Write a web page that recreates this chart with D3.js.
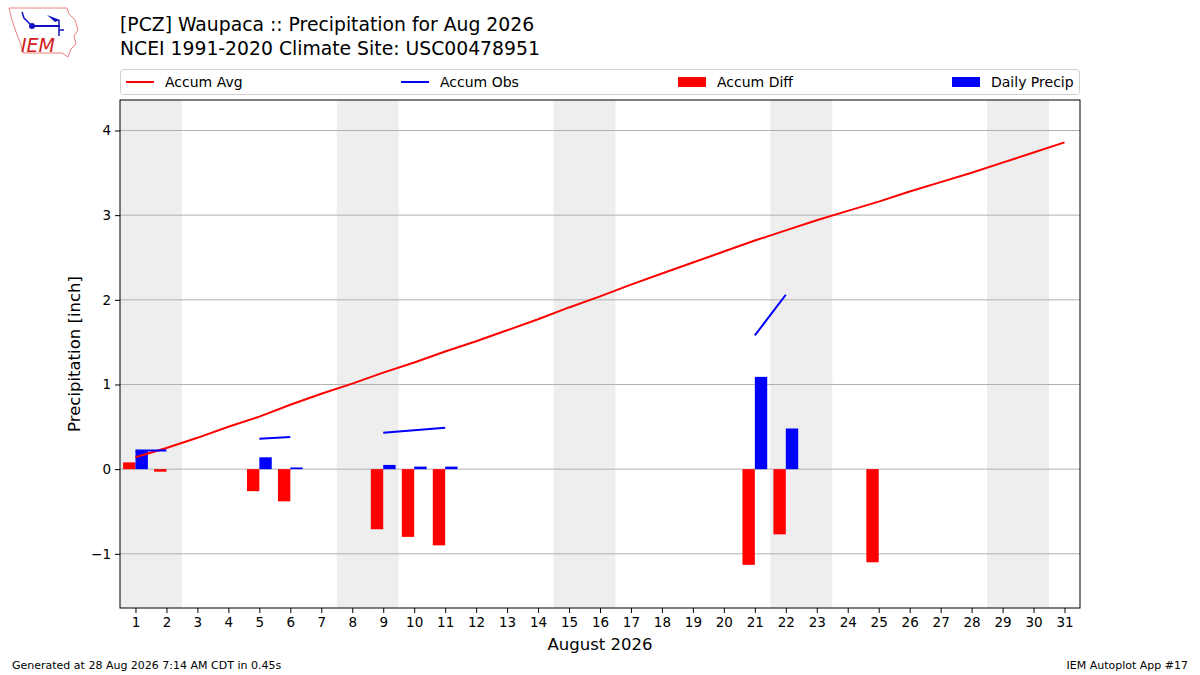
<!DOCTYPE html>
<html>
<head>
<meta charset="utf-8">
<script src="https://cdn.jsdelivr.net/npm/d3@7"></script>
<style>
html,body{margin:0;padding:0;background:#fff;}
svg text{font-family:"DejaVu Sans",sans-serif;}
</style>
</head>
<body>
<svg id="chart" width="1200" height="675"></svg>
<script>
const days = d3.range(1, 32);
const accumAvg = [0.14,0.25,0.37,0.50,0.62,0.76,0.89,1.01,1.14,1.26,1.39,1.51,1.64,1.77,1.91,2.04,2.18,2.31,2.44,2.57,2.70,2.82,2.94,3.05,3.16,3.28,3.39,3.50,3.62,3.74,3.86];
const accumObs = [0.22,0.22,null,null,0.36,0.38,null,null,0.43,0.46,0.49,null,null,null,null,null,null,null,null,null,1.58,2.06,null,null,2.06,null,null,null,null,null,null];
const accumDiff = [0.08,-0.03,null,null,-0.26,-0.38,null,null,-0.71,-0.80,-0.90,null,null,null,null,null,null,null,null,null,-1.13,-0.77,null,null,-1.10,null,null,null,null,null,null];
const dailyPrecip = [0.22,0,null,null,0.14,0.02,null,null,0.05,0.03,0.03,null,null,null,null,null,null,null,null,null,1.09,0.48,null,null,0,null,null,null,null,null,null];
const weekendStarts = [1, 8, 15, 22, 29];
const yTicks = [-1, 0, 1, 2, 3, 4];
const titleLines = ["[PCZ] Waupaca :: Precipitation for Aug 2026", "NCEI 1991-2020 Climate Site: USC00478951"];
const legendItems = [
  {label:"Accum Avg", type:"line", color:"#ff0000"},
  {label:"Accum Obs", type:"line", color:"#0000ff"},
  {label:"Accum Diff", type:"rect", color:"#ff0000"},
  {label:"Daily Precip", type:"rect", color:"#0000ff"}
];

const svg = d3.select("#chart");
const m = {left:120, right:1080, top:100, bottom:608};
const x = d3.scaleLinear().domain([0.5, 31.5]).range([m.left, m.right]);
const y = d3.scaleLinear().domain([-1.64, 4.36]).range([m.bottom, m.top]);

svg.append("defs").append("clipPath").attr("id","clip").append("rect")
  .attr("x", m.left).attr("y", m.top).attr("width", m.right-m.left).attr("height", m.bottom-m.top);
const plot = svg.append("g").attr("clip-path","url(#clip)");

// weekends
plot.selectAll("rect.wk").data(weekendStarts).join("rect")
  .attr("x", d => x(d-0.5)).attr("width", d => x(d+1.5)-x(d-0.5))
  .attr("y", m.top).attr("height", m.bottom-m.top).attr("fill", "#eeeeee");

// grid
plot.selectAll("line.grid").data(yTicks).join("line")
  .attr("x1", m.left).attr("x2", m.right)
  .attr("y1", d => y(d)).attr("y2", d => y(d))
  .attr("stroke", "#b0b0b0").attr("stroke-width", 1);

// bars
const diffData = days.map((d,i)=>({d, v:accumDiff[i]})).filter(e=>e.v!==null);
plot.selectAll("rect.diff").data(diffData).join("rect")
  .attr("x", e => x(e.d-0.4)).attr("width", e => x(e.d)-x(e.d-0.4))
  .attr("y", e => y(Math.max(0,e.v))).attr("height", e => Math.abs(y(e.v)-y(0)))
  .attr("fill", "#ff0000");
const dailyData = days.map((d,i)=>({d, v:dailyPrecip[i]})).filter(e=>e.v!==null && e.v>0);
plot.selectAll("rect.daily").data(dailyData).join("rect")
  .attr("x", e => x(e.d)).attr("width", e => x(e.d+0.4)-x(e.d))
  .attr("y", e => y(Math.max(0,e.v))).attr("height", e => Math.abs(y(e.v)-y(0)))
  .attr("fill", "#0000ff");

// lines
const line = d3.line().defined(e => e.v !== null).x(e => x(e.d)).y(e => y(e.v));
plot.append("path").datum(days.map((d,i)=>({d, v:accumAvg[i]})))
  .attr("d", line).attr("fill","none").attr("stroke","#ff0000").attr("stroke-width",2).attr("stroke-linejoin","round");
plot.append("path").datum(days.map((d,i)=>({d, v:accumObs[i]})))
  .attr("d", line).attr("fill","none").attr("stroke","#0000ff").attr("stroke-width",2).attr("stroke-linecap","butt");

// frame
svg.append("rect").attr("x", m.left).attr("y", m.top).attr("width", m.right-m.left).attr("height", m.bottom-m.top)
  .attr("fill","none").attr("stroke","#000").attr("stroke-width",1);

// axes
const xAxis = d3.axisBottom(x).tickValues(days).tickSize(5).tickPadding(4).tickFormat(d3.format("d"));
const gx = svg.append("g").attr("transform", `translate(0,${m.bottom})`).call(xAxis);
gx.select(".domain").remove();
gx.selectAll("text").attr("font-size", 13.5).attr("fill","#000").attr("font-family","DejaVu Sans");
const yAxis = d3.axisLeft(y).tickValues(yTicks).tickSize(5).tickPadding(4).tickFormat(d => d < 0 ? "\u2212" + Math.abs(d) : String(d));
const gy = svg.append("g").attr("transform", `translate(${m.left},0)`).call(yAxis);
gy.select(".domain").remove();
gy.selectAll("text").attr("font-size", 13.5).attr("fill","#000").attr("font-family","DejaVu Sans");

// axis labels
svg.append("text").attr("x", (m.left+m.right)/2).attr("y", 650).attr("text-anchor","middle")
  .attr("font-size", 16.5).text("August 2026");
svg.append("text").attr("transform", `translate(80,${(m.top+m.bottom)/2}) rotate(-90)`).attr("text-anchor","middle")
  .attr("font-size", 16.5).text("Precipitation [inch]");

// title
svg.selectAll("text.title").data(titleLines).join("text")
  .attr("x", 120).attr("y", (d,i) => 31 + i*24).attr("font-size", 18.8).attr("fill","#000").text(d => d);

// legend
svg.append("rect").attr("x", 120.5).attr("y", 69.5).attr("width", 959).attr("height", 25).attr("rx", 3)
  .attr("fill","#fff").attr("stroke","#d0d0d0").attr("stroke-width",1);
const legX = [126, 401, 678, 952];
legendItems.forEach((it, i) => {
  const g = svg.append("g").attr("transform", `translate(${legX[i]},82)`);
  if (it.type === "line") {
    g.append("line").attr("x1",0).attr("x2",28).attr("y1",0).attr("y2",0).attr("stroke",it.color).attr("stroke-width",2);
  } else {
    g.append("rect").attr("x",0).attr("y",-5).attr("width",28).attr("height",10).attr("fill",it.color);
  }
  g.append("text").attr("x", 39).attr("y", 5).attr("font-size", 14).text(it.label);
});

// footer
svg.append("text").attr("x", 12).attr("y", 669).attr("font-size", 11).text("Generated at 28 Aug 2026 7:14 AM CDT in 0.45s");
svg.append("text").attr("x", 1188).attr("y", 669).attr("text-anchor","end").attr("font-size", 11).text("IEM Autoplot App #17");

// logo (approximation)
const logo = svg.append("g");
logo.append("path").attr("d","M9,8 L67,8 L69,14 L75,20 L78,30 L74,36 L76,44 L71,49 L68,57 L62,53 L23,53 L21,45 L16,32 L12,20 Z")
  .attr("fill","#fff").attr("stroke","#e88080").attr("stroke-width",1);
logo.append("line").attr("x1",31).attr("x2",60).attr("y1",26).attr("y2",26).attr("stroke","#1010c0").attr("stroke-width",2);
logo.append("circle").attr("cx",32).attr("cy",26).attr("r",3).attr("fill","#1010c0");
logo.append("path").attr("d","M47,15 L60,20 L55,22 Z").attr("fill","#1010c0");
logo.append("line").attr("x1",59).attr("x2",59).attr("y1",20).attr("y2",36).attr("stroke","#1010c0").attr("stroke-width",1.5);
logo.append("line").attr("x1",59).attr("x2",64).attr("y1",30).attr("y2",30).attr("stroke","#1010c0").attr("stroke-width",1.5);
logo.append("path").attr("d","M22,12 L24,18 L30,24").attr("fill","none").attr("stroke","#1010c0").attr("stroke-width",1.5);
logo.append("text").attr("x",21).attr("y",52).attr("font-family","Liberation Serif, serif").attr("font-style","italic")
  .attr("font-size",19).attr("fill","#d02020").text("IEM");
</script>
</body>
</html>
